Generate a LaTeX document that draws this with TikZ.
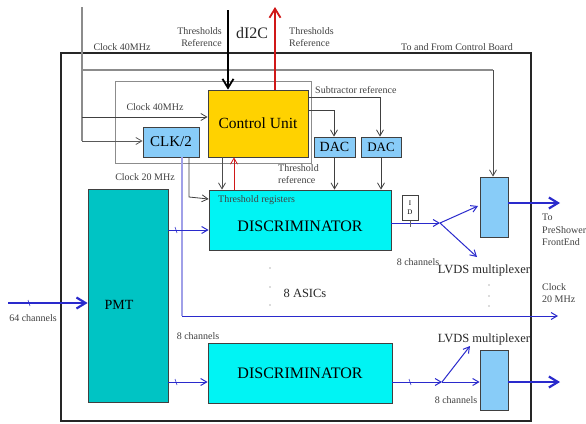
\documentclass[tikz,border=0pt]{standalone}
\usepackage{fontspec}
\setmainfont{Liberation Serif}
\usetikzlibrary{arrows.meta}
\definecolor{cuyellow}{HTML}{FFD200}
\definecolor{lblue}{HTML}{88CCF8}
\definecolor{cyanb}{HTML}{00F4F4}
\definecolor{tealb}{HTML}{00C4C4}
\definecolor{sig}{HTML}{2A2ACC}
\definecolor{lav}{HTML}{A0A0E8}
\definecolor{redar}{HTML}{D01818}
\begin{document}
\begin{tikzpicture}[x=1pt,y=-1pt,
  box/.style={draw=black!75,line width=0.8pt,inner sep=0pt},
  lbl/.style={font=\fontsize{10}{12.5}\selectfont,inner sep=0pt,text=black!75},
  big/.style={font=\fontsize{12.5}{14}\selectfont,inner sep=0pt,text=black!85},
  arr/.style={-{Straight Barb[length=6pt,width=7pt]}},
  bigarr/.style={-{Straight Barb[length=9pt,width=11pt]}},
  sigline/.style={draw=sig,line width=1pt},
  thick/.style={line width=2.4pt}]
\useasboundingbox (0,0) rectangle (586,423);

% frames
\draw[line width=2.2pt,black!85] (61,53) rectangle (531,421);
\draw[black!45,line width=0.6pt] (115,81) rectangle (311,163);

% boxes
\node[box,fill=cuyellow,minimum width=100pt,minimum height=67pt] (cu) at (258,123.5) {\fontsize{15.5}{18}\selectfont Control Unit};
\node[box,fill=lblue,minimum width=56pt,minimum height=30pt] (clk) at (171,142) {\fontsize{15}{17}\selectfont CLK/2};
\node[box,fill=lblue,minimum width=41pt,minimum height=20pt] (dac1) at (334.5,147) {\fontsize{14}{16}\selectfont DAC};
\node[box,fill=lblue,minimum width=40pt,minimum height=20pt] (dac2) at (381,147) {\fontsize{13}{15}\selectfont DAC};
\node[box,fill=cyanb,minimum width=182pt,minimum height=60pt] (disc1) at (300,220) {};
\node[box,fill=cyanb,minimum width=184pt,minimum height=60pt] (disc2) at (300,373) {\fontsize{16}{18}\selectfont DISCRIMINATOR};
\node[box,fill=tealb,minimum width=80pt,minimum height=213pt] (pmt) at (128,295.5) {};
\node[box,fill=lblue,minimum width=28pt,minimum height=60pt] (mux1) at (494,207) {};
\node[box,fill=lblue,minimum width=28pt,minimum height=60pt] (mux2) at (494,380) {};
\node[box,fill=white,minimum width=16pt,minimum height=25pt,align=center,font=\fontsize{7}{9}\selectfont] (idb) at (410,207.5) {I\\D};

\node[font=\fontsize{16}{18}\selectfont] (disctxt) at (300,226) {DISCRIMINATOR};
\node[lbl,anchor=west] (threg) at (218,200) {Threshold registers};
\node[font=\fontsize{14}{16}\selectfont] (pmttxt) at (119,305) {PMT};

% coordinates
\coordinate (gtop) at (82,7);
\coordinate (gcorner) at (82,141);
\coordinate (g40) at (82,117);
\coordinate (g70) at (82,70);
\coordinate (g70r) at (493,70);
\coordinate (ktop) at (228,10);
\coordinate (rtop) at (275,7);
\coordinate (sub1) at (380,97);
\coordinate (sub2) at (334,110);
\coordinate (c20a) at (189,197);
\coordinate (lavb) at (182,316);
\coordinate (lavend) at (558,316);
\coordinate (inp) at (8,303);
\coordinate (s1) at (440,223);
\coordinate (s1u) at (478,206);
\coordinate (s1d) at (477,257);
\coordinate (s2) at (442,382);
\coordinate (s2u) at (470,346);
\coordinate (o1) at (560,203);
\coordinate (o2) at (560,382);

% gray control lines
\draw[black!45,line width=1.6pt] (gtop) -- (gcorner);
\draw[black!65,line width=0.8pt,arr] (gcorner) -- (clk.west |- gcorner);
\draw[black!75,line width=0.8pt,arr] (g40) -- (cu.west |- g40);
\draw[black!45,line width=1.6pt] (g70) -- (g70r);
\draw[black!70,line width=0.8pt,arr] (g70r) -- (mux1.north -| g70r);

% I2C
\draw[black,line width=1.8pt,bigarr] (ktop) -- (cu.north -| ktop);
\draw[redar,line width=1.8pt,bigarr] (cu.north -| rtop) -- (rtop);

% subtractor references
\draw[black!75,line width=0.8pt,arr] (cu.east |- sub1) -- (sub1) -- (dac2.north -| sub1);
\draw[black!75,line width=0.8pt,arr] (cu.east |- sub2) -- (sub2) -- (dac1.north -| sub2);
\draw[black!75,line width=0.8pt,arr] (dac1.south) -- (disc1.north -| dac1.south);
\draw[black!75,line width=0.8pt,arr] (dac2.south) -- (disc1.north -| dac2.south);

% CU <-> DISC
\draw[black!70,line width=0.8pt,arr] (cu.south -| 222,0) -- (disc1.north -| 222,0);
\draw[redar,line width=0.8pt,arr] (disc1.north -| 234,0) -- (cu.south -| 234,0);

% clock 20MHz
\draw[black!75,line width=0.8pt,arr] (clk.south -| c20a) -- (c20a) -- (disc1.west |- 0,199);
\draw[lav,line width=1.2pt] (clk.south -| lavb) -- (lavb);
\draw[sigline,arr] (lavb) -- (lavend);

% PMT input and outputs
\draw[sig,line width=2.2pt,bigarr] (inp) -- (pmt.west |- inp);
\draw[sig,line width=0.6pt] (28,300) -- (30,306);
\draw[sigline,arr] (pmt.east |- 0,230) -- (disc1.west |- 0,230);
\draw[sig,line width=0.6pt] (175,227) -- (177,233);
\draw[sigline,arr] (pmt.east |- 0,382) -- (disc2.west |- 0,382);
\draw[sig,line width=0.6pt] (175,379) -- (177,385);

% discriminator outputs
\draw[sigline,arr] (disc1.east |- s1) -- (s1);
\draw[black!60,line width=0.6pt] (410,220.5) -- (410,227);
\draw[sigline,arr] (s1) -- (s1u);
\draw[sigline,arr] (s1) -- (s1d);
\draw[sigline,arr] (disc2.east |- s2) -- (s2);
\draw[sig,line width=0.6pt] (409,379) -- (411,385);
\draw[sigline,arr] (s2) -- (mux2.west |- s2);
\draw[sigline,arr] (s2) -- (s2u);

% mux outputs
\draw[sig,line width=2.2pt,bigarr] (mux1.east |- o1) -- (o1);
\draw[sig,line width=2.2pt,bigarr] (mux2.east |- o2) -- (o2);

% labels
\node[lbl,align=right,anchor=east] (lthl) at (222,37) {Thresholds\\Reference};
\node[font=\fontsize{16}{18}\selectfont,inner sep=0pt,text=black!85] (li2c) at (252,33) {dI2C};
\node[lbl,align=left,anchor=west] (lthr) at (289,37) {Thresholds\\Reference};
\node[lbl] (lc40a) at (122,47) {Clock 40MHz};
\node[lbl] (lctrl) at (457,47) {To and From Control Board};
\node[lbl] (lc40b) at (155,107) {Clock 40MHz};
\node[lbl,anchor=west] (lsub) at (315,90) {Subtractor reference};
\node[lbl] (lc20) at (145,177) {Clock 20 MHz};
\node[lbl,align=left,anchor=west] (lthref) at (278,174) {Threshold\\reference};
\node[lbl] (l8a) at (418,262) {8 channels};
\node[big] (llvds1) at (484,270) {LVDS multiplexer};
\node[big] (lasic) at (305,293) {8 ASICs};
\node[lbl] (l64) at (33,318) {64 channels};
\node[lbl] (l8b) at (198,336) {8 channels};
\node[big] (llvds2) at (484,339) {LVDS multiplexer};
\node[lbl] (l8c) at (456,400) {8 channels};
\node[lbl,align=left,anchor=west] (lpre) at (542,230) {To\\PreShower\\FrontEnd};
\node[lbl,align=left,anchor=west] (lclk) at (542,293) {Clock\\20 MHz};

% dots
\foreach \yy in {268,287,305} \fill[black!60] (270,\yy) circle (0.6pt);
\foreach \yy in {285,296,306} \fill[black!60] (489,\yy) circle (0.6pt);
\end{tikzpicture}
\end{document}
